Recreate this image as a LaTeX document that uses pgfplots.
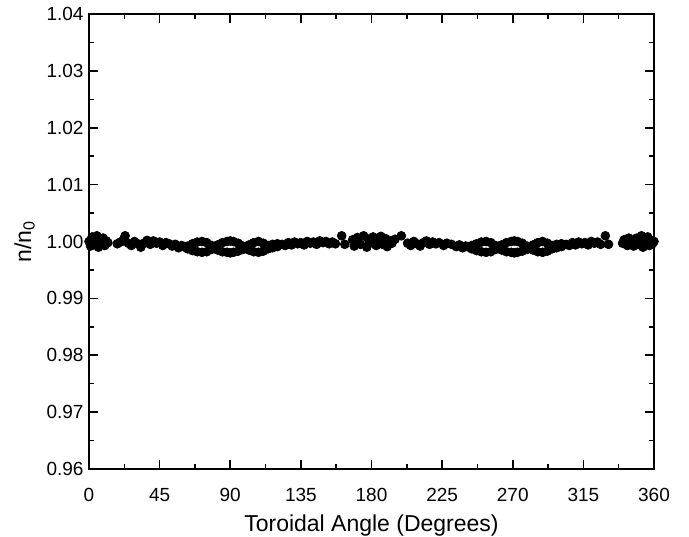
\documentclass[border=0pt]{standalone}
\usepackage{pgfplots}
\pgfplotsset{compat=1.18}
\usepackage{fontspec}
\setmainfont{Liberation Sans}

\begin{document}
\begin{tikzpicture}
\begin{axis}[
    scale only axis,
    width=282.5pt, height=227.5pt,
    xmin=0, xmax=360,
    ymin=0.96, ymax=1.04,
    xtick={0,45,...,360},
    ytick={0.96,0.97,...,1.04},
    minor x tick num=1,
    minor y tick num=1,
    tick align=inside,
    major tick length=4.5pt,
    minor tick length=2.5pt,
    axis line style={line width=1pt},
    every tick/.style={line width=0.8pt, black},
    yticklabel style={xshift=0.8pt, /pgf/number format/.cd, fixed, fixed zerofill, precision=2},
    /pgf/number format/assume math mode=true,
    ticklabel style={font=\fontsize{9.5}{11}\selectfont},
    xticklabel style={yshift=-6pt},
    xlabel={Toroidal Angle (Degrees)},
    ylabel={n/n$_\mathrm{0}$},
    label style={font=\fontsize{11.5}{13}\selectfont},
    xlabel style={yshift=0pt},
    ylabel style={yshift=-1pt},
]
\addplot[only marks, mark=*, mark size=2.2pt, black] coordinates {
(0,1.0000)(1,0.9992)(2,1.0008)(3,0.9995)(4,1.0005)(5,1.0010)(6,0.9990)(7,1.0003)
(8,0.9997)(9,1.0006)(10,0.9993)(11,1.0001)(12,0.9998)
(18,0.9996)(20,0.9999)(22,1.0003)(23,1.0010)(25,0.9997)(27,0.9993)(29,1.0000)
(31,0.9996)(33,0.9990)(35,0.9997)(37,1.0002)(39,0.9995)(41,1.0001)(43,0.9997)
(45,0.9999)(47,0.9993)(49,0.9998)(51,0.9996)(53,0.9992)(55,0.9995)(57,0.9989)
(59,0.9993)(61,0.9990)
(63,0.9992)(66,0.9996)(69,0.9999)(72,1.0000)(75,0.9998)(78,0.9993)(80,0.9990)
(82,0.9994)(85,0.9998)(88,1.0000)(90,1.0001)(92,1.0000)(95,0.9997)(98,0.9992)
(100,0.9990)(102,0.9994)(105,0.9998)(108,1.0000)(111,0.9997)(114,0.9993)
(117,0.9995)(120,0.9996)
(63,0.9987)(66,0.9984)(69,0.9982)(72,0.9981)(75,0.9982)(78,0.9986)(80,0.9989)
(82,0.9985)(85,0.9982)(88,0.9981)(90,0.9980)(92,0.9981)(95,0.9983)(98,0.9986)
(100,0.9988)(102,0.9985)(105,0.9982)(108,0.9981)(111,0.9983)(114,0.9987)
(117,0.9989)(120,0.9991)
(123,0.9995)(125,0.9993)(127,0.9998)(129,0.9994)(131,0.9999)(133,0.9996)
(135,0.9998)(137,0.9994)(139,1.0000)(141,0.9997)(143,0.9999)(145,0.9995)
(147,1.0001)(149,0.9998)(151,1.0000)(153,0.9996)(155,0.9999)(157,0.9996)
(161,1.0010)(163,0.9995)
(168,1.0003)(169,0.9992)(171,1.0007)(173,0.9995)(175,1.0010)(177,0.9990)
(178,1.0004)(180,0.9998)(181,1.0008)(183,0.9993)(184,1.0002)(186,1.0009)
(187,0.9995)(189,1.0005)(190,0.9991)(192,1.0001)(193,0.9997)(195,1.0004)
(199,1.0010)(203,0.9997)(205,0.9993)(207,1.0000)(209,0.9996)(211,0.9992)
(213,0.9998)(215,1.0001)(217,0.9995)(219,0.9999)(221,0.9996)(223,0.9998)
(226,0.9993)(228,0.9997)(231,0.9995)(234,0.9991)(236,0.9994)(238,0.9989)
(240,0.9992)(242,0.9990)
(244,0.9993)(247,0.9996)(250,0.9999)(253,1.0000)(256,0.9998)(259,0.9993)
(261,0.9990)(263,0.9994)(266,0.9998)(269,1.0000)(271,1.0001)(273,1.0000)
(276,0.9997)(279,0.9992)(281,0.9990)(283,0.9994)(286,0.9998)(289,1.0000)
(292,0.9997)(295,0.9993)(298,0.9995)(301,0.9996)
(244,0.9987)(247,0.9984)(250,0.9982)(253,0.9981)(256,0.9982)(259,0.9986)
(261,0.9989)(263,0.9985)(266,0.9982)(269,0.9981)(271,0.9980)(273,0.9981)
(276,0.9983)(279,0.9986)(281,0.9988)(283,0.9985)(286,0.9982)(289,0.9981)
(292,0.9983)(295,0.9987)(298,0.9989)(301,0.9991)
(304,0.9995)(306,0.9993)(308,0.9998)(310,0.9994)(312,0.9999)(314,0.9996)
(316,0.9998)(318,0.9994)(320,1.0000)(322,0.9997)(324,0.9999)(326,0.9995)
(329,1.0010)(331,0.9995)
(340,0.9997)(341,1.0003)(343,0.9993)(344,1.0006)
(346,1.0000)(347,0.9992)(349,1.0006)(350,0.9995)(352,1.0010)(353,0.9990)
(354,1.0004)(355,0.9997)(356,1.0008)(357,0.9993)(358,1.0002)(359,0.9996)(360,1.0000)
};
\end{axis}
\pgfresetboundingbox
\path ([xshift=-44.5pt,yshift=-34pt]current axis.south west) rectangle ([xshift=17.5pt,yshift=7pt]current axis.north east);
\end{tikzpicture}
\end{document}
